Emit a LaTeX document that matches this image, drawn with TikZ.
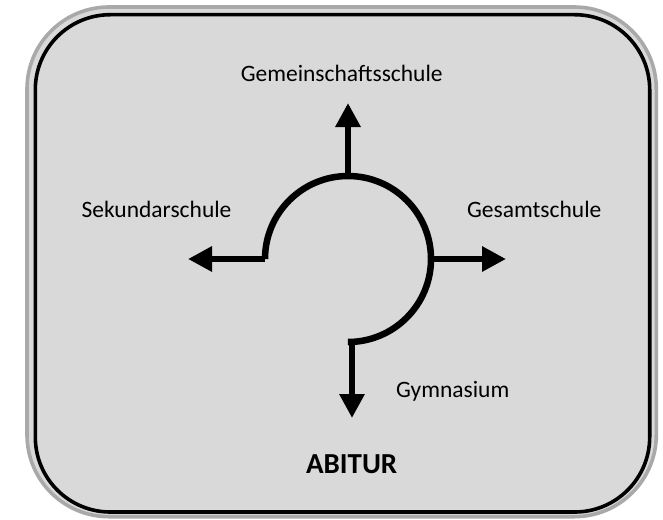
\documentclass[tikz,border=0pt]{standalone}
\usepackage{fontspec}
\setmainfont{Carlito}
\usetikzlibrary{arrows.meta}
\definecolor{bgfill}{HTML}{D9D9D9}
\definecolor{rimgray}{HTML}{A9A9A9}
\begin{document}
\begin{tikzpicture}[x=1pt,y=-1pt,
  road/.style={line width=6.5pt},
  arr/.style={line width=6.5pt,-{Triangle[width=24pt,length=24pt]}},
  lbl/.style={inner sep=0pt,anchor=base,font=\fontsize{23.5}{28}\selectfont},
  goal/.style={inner sep=0pt,anchor=base,font=\fontsize{29}{34}\selectfont\bfseries}]
\useasboundingbox (0,0) rectangle (663,519);
% frames
\draw[line width=3.6pt,draw=rimgray,fill=bgfill,rounded corners=82pt] (27,7) rectangle (656.3,516.7);
\draw[line width=3.6pt,draw=black,rounded corners=75pt] (35.3,14.7) rectangle (649.7,512);
% roundabout
\coordinate (L) at (265,259);
\coordinate (T) at (348,176);
\coordinate (R) at (431,259);
\coordinate (Bs) at (352,342);
\coordinate (Ltip) at (188,259);
\coordinate (Ttip) at (348,103);
\coordinate (Rtip) at (506,259);
\coordinate (Btip) at (352,418);
\draw[road,line join=miter] (L) arc[start angle=180,end angle=450,radius=83] -- (Bs);
\draw[arr] (L) -- (Ltip);
\draw[arr] (T) -- (Ttip);
\draw[arr] (R) -- (Rtip);
\draw[arr] ([yshift=-3.2pt]Bs) -- (Btip);
% labels
\node[lbl] (gem) at (341.7,81.7) {Gemeinschaftsschule};
\node[lbl] (sek) at (156.5,217) {Sekundarschule};
\node[lbl] (ges) at (534.2,217) {Gesamtschule};
\node[lbl] (gym) at (452.7,397.7) {Gymnasium};
\node[goal] (abi) at (351.7,473.3) {ABITUR};
\end{tikzpicture}
\end{document}
